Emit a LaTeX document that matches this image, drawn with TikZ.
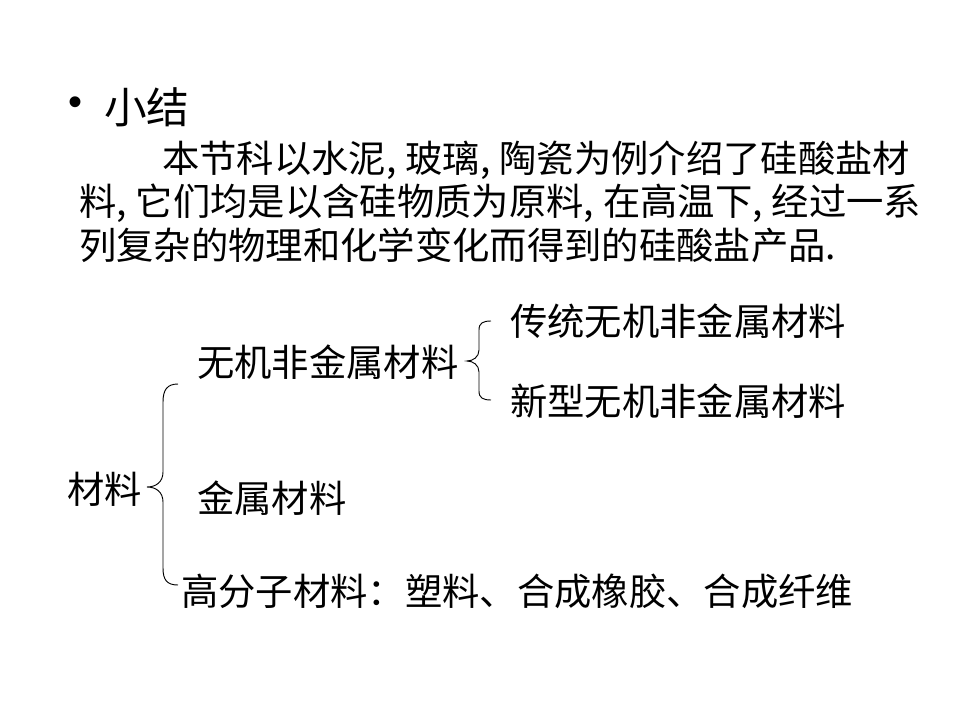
\documentclass[tikz,border=0pt]{standalone}
\usepackage{fontspec}
\newfontfamily\cjk{Noto Sans CJK SC}
\newfontfamily\bulletfont{Liberation Sans}
\newcommand{\cmsep}{,\kern0.24em}
\tikzset{
  txt/.style={anchor=west, inner sep=0pt, font=\cjk\fontsize{28}{34}\selectfont},
  ttl/.style={anchor=west, inner sep=0pt, font=\cjk\fontsize{32}{38}\selectfont},
  brace/.style={draw=black, line width=0.7pt}
}
\begin{document}
\begin{tikzpicture}[x=0.75pt, y=-0.75pt]
\useasboundingbox (0,0) rectangle (960,720);
% title
\node[inner sep=0pt, font=\bulletfont\fontsize{30}{34}\selectfont] (bul) at (76,106) {•};
\node[ttl] (title) at (104,107) {小结};
% paragraph
\node[txt] (p1) at (162,160) {本节科以水泥\cmsep 玻璃\cmsep 陶瓷为例介绍了硅酸盐材};
\node[txt] (p2) at (79,203) {料\cmsep 它们均是以含硅物质为原料\cmsep 在高温下\cmsep 经过一系};
\node[txt] (p3) at (79,245) {列复杂的物理和化学变化而得到的硅酸盐产品.};
% diagram
\node[txt] (root) at (67,489) {材料};
\node[txt] (inorg) at (197,362) {无机非金属材料};
\node[txt] (trad) at (510,321) {传统无机非金属材料};
\node[txt] (new) at (510,401) {新型无机非金属材料};
\node[txt] (metal) at (197,498) {金属材料};
\node[txt] (poly) at (181,591) {高分子材料：塑料、合成橡胶、合成纤维};
% big brace
\coordinate (bt) at (178,384);
\coordinate (bm) at (147,487);
\coordinate (bb) at (178,585);
\draw[brace] (bt) .. controls (167,384) and (163,390) .. (163,402)
  -- (163,472) .. controls (163,482) and (156,487) .. (bm)
  .. controls (156,487) and (163,492) .. (163,502)
  -- (163,568) .. controls (163,580) and (167,585) .. (bb);
% small brace
\coordinate (st) at (491,321);
\coordinate (sm) at (467,361);
\coordinate (sb) at (491,400);
\draw[brace] (st) .. controls (483,321) and (479,323) .. (479,330)
  -- (479,350) .. controls (479,357) and (473,361) .. (sm)
  .. controls (473,361) and (479,365) .. (479,372)
  -- (479,391) .. controls (479,398) and (483,400) .. (sb);
\end{tikzpicture}
\end{document}
